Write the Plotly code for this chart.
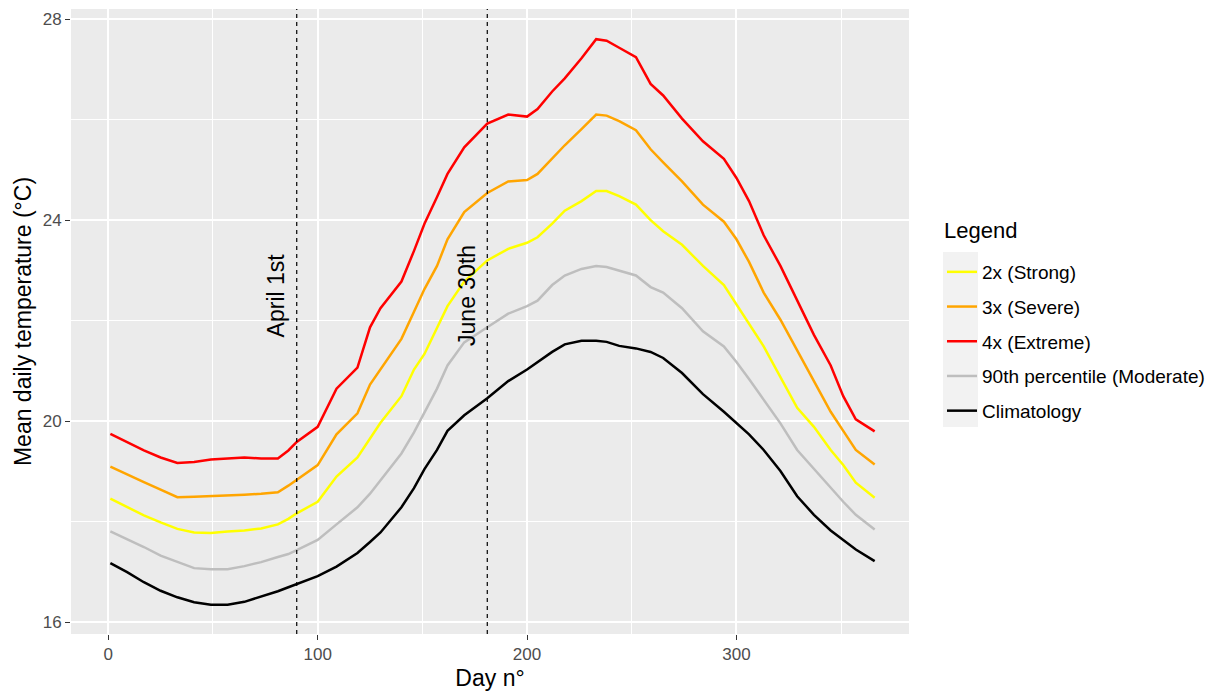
import plotly.graph_objects as go

days = [1, 9, 17, 25, 33, 41, 49, 57, 65, 73, 81, 86, 90,
        100, 109, 119, 125, 130, 140, 146, 151, 157, 162, 170, 181, 191, 200, 205,
        212, 218, 226, 233, 238, 244, 252, 259, 265, 274, 284, 294, 300, 306, 313,
        321, 329, 337, 345, 351, 357, 366]

strong = [18.46, 18.29, 18.13, 17.99, 17.86, 17.79, 17.78, 17.81, 17.83, 17.87, 17.95, 18.06, 18.17,
          18.40, 18.90, 19.28, 19.66, 19.97, 20.50, 21.03, 21.34, 21.87, 22.29, 22.78, 23.20, 23.43,
          23.55, 23.66, 23.93, 24.19, 24.38, 24.58, 24.58, 24.48, 24.31, 24.00, 23.78, 23.51, 23.09,
          22.71, 22.33, 21.94, 21.49, 20.88, 20.27, 19.89, 19.43, 19.13, 18.78, 18.48]

severe = [19.10, 18.94, 18.79, 18.64, 18.49, 18.50, 18.51, 18.53, 18.54, 18.56, 18.59, 18.72, 18.84,
          19.13, 19.74, 20.16, 20.73, 21.03, 21.64, 22.18, 22.63, 23.09, 23.62, 24.16, 24.54, 24.77,
          24.80, 24.92, 25.22, 25.49, 25.81, 26.10, 26.08, 25.97, 25.79, 25.41, 25.15, 24.77, 24.31,
          23.97, 23.62, 23.17, 22.56, 22.02, 21.41, 20.80, 20.19, 19.81, 19.43, 19.14]

extreme = [19.75, 19.59, 19.42, 19.28, 19.17, 19.19, 19.24, 19.26, 19.28, 19.26, 19.26, 19.42, 19.59,
           19.89, 20.65, 21.07, 21.87, 22.25, 22.78, 23.39, 23.93, 24.46, 24.92, 25.45, 25.92, 26.10,
           26.06, 26.21, 26.56, 26.82, 27.22, 27.60, 27.57, 27.43, 27.24, 26.71, 26.48, 26.02, 25.57,
           25.22, 24.84, 24.38, 23.70, 23.09, 22.40, 21.72, 21.11, 20.50, 20.04, 19.80]

moderate = [17.81, 17.66, 17.50, 17.33, 17.20, 17.08, 17.06, 17.06, 17.12, 17.20, 17.30, 17.36, 17.44,
            17.64, 17.95, 18.29, 18.56, 18.82, 19.36, 19.78, 20.19, 20.65, 21.11, 21.57, 21.87, 22.14,
            22.29, 22.40, 22.71, 22.90, 23.03, 23.09, 23.07, 23.00, 22.90, 22.67, 22.56, 22.25, 21.79,
            21.49, 21.18, 20.84, 20.42, 19.96, 19.43, 19.05, 18.67, 18.40, 18.14, 17.85]

climatology = [17.18, 17.00, 16.80, 16.63, 16.50, 16.40, 16.35, 16.35, 16.41, 16.51, 16.62, 16.70, 16.76,
               16.92, 17.11, 17.38, 17.60, 17.79, 18.29, 18.67, 19.05, 19.43, 19.81, 20.12, 20.46, 20.80,
               21.03, 21.18, 21.38, 21.53, 21.60, 21.60, 21.58, 21.50, 21.45, 21.38, 21.26, 20.96, 20.54,
               20.19, 19.97, 19.74, 19.43, 19.01, 18.51, 18.14, 17.83, 17.64, 17.45, 17.22]

series_names = ["2x (Strong)", "3x (Severe)", "4x (Extreme)", "90th percentile (Moderate)", "Climatology"]
series_values = [strong, severe, extreme, moderate, climatology]
series_colors = ["#FFFF00", "#FFA500", "#FF0000", "#BEBEBE", "#000000"]

vline_days = [90, 181]
vline_labels = ["April 1st", "June 30th"]
label_offset = 10
label_y = 22.5

x_ticks = [0, 100, 200, 300]
y_ticks = [16, 20, 24, 28]

FONT = "Liberation Sans, Arial, sans-serif"

# panel geometry helpers (pixels -> paper)
PL, PR, PT, PB = 71, 909, 9, 634
def px(xp):
    return (xp - PL) / (PR - PL)
def py(yp):
    return (PB - yp) / (PB - PT)

fig = go.Figure()
for name, vals, col in zip(series_names, series_values, series_colors):
    fig.add_trace(go.Scatter(x=days, y=vals, mode="lines", name=name, legendgroup=name,
                             line=dict(color=col, width=2.5)))

for d, lab in zip(vline_days, vline_labels):
    fig.add_shape(type="line", xref="x", yref="paper", x0=d, x1=d, y0=0, y1=1,
                  line=dict(color="#000000", width=1.2, dash="4px,4px"), layer="above")
    fig.add_annotation(x=d - label_offset, y=label_y, xref="x", yref="y", text=lab,
                       textangle=-90, showarrow=False,
                       font=dict(family=FONT, size=23, color="#000000"))

# legend key background
fig.add_shape(type="rect", xref="paper", yref="paper",
              x0=px(943), x1=px(978), y0=py(427), y1=py(252),
              fillcolor="#F2F2F2", line=dict(width=0), layer="below")

# legend title
fig.add_annotation(x=px(942), y=py(230), xref="paper", yref="paper", text="Legend",
                   xanchor="left", yanchor="middle", showarrow=False,
                   font=dict(family=FONT, size=22, color="#000000"))

fig.update_layout(
    width=1217, height=691,
    margin=dict(l=PL, r=1217 - PR, t=PT, b=691 - PB, autoexpand=False),
    paper_bgcolor="#FFFFFF", plot_bgcolor="#EBEBEB",
    font=dict(family=FONT, color="#000000"),
    showlegend=True,
    legend=dict(
        font=dict(size=19, color="#000000"),
        x=px(942), xanchor="left",
        y=py(253), yanchor="top",
        bgcolor="rgba(0,0,0,0)", borderwidth=0,
        tracegroupgap=7, traceorder="grouped", itemwidth=30,
    ),
    xaxis=dict(
        range=[-17.8, 382.4], tickvals=x_ticks, ticktext=[str(v) for v in x_ticks],
        showgrid=True, gridcolor="#FFFFFF", gridwidth=2, zeroline=False,
        ticks="outside", ticklen=5, tickwidth=1.1, tickcolor="#333333",
        tickfont=dict(size=17, color="#4D4D4D"),
        minor=dict(dtick=50, tick0=0, showgrid=True, gridcolor="#FFFFFF", gridwidth=1, ticks=""),
        title=dict(text="Day n°", font=dict(size=23, color="#000000"), standoff=6),
        showline=False, automargin=False,
    ),
    yaxis=dict(
        range=[15.77, 28.2], tickvals=y_ticks, ticktext=[str(v) for v in y_ticks],
        showgrid=True, gridcolor="#FFFFFF", gridwidth=2, zeroline=False,
        ticks="outside", ticklen=5, tickwidth=1.1, tickcolor="#333333",
        tickfont=dict(size=17, color="#4D4D4D"),
        minor=dict(dtick=2, tick0=16, showgrid=True, gridcolor="#FFFFFF", gridwidth=1, ticks=""),
        title=dict(text="Mean daily temperature (°C)", font=dict(size=23, color="#000000"), standoff=4),
        showline=False, automargin=False,
    ),
)

fig.write_html("out.html")
